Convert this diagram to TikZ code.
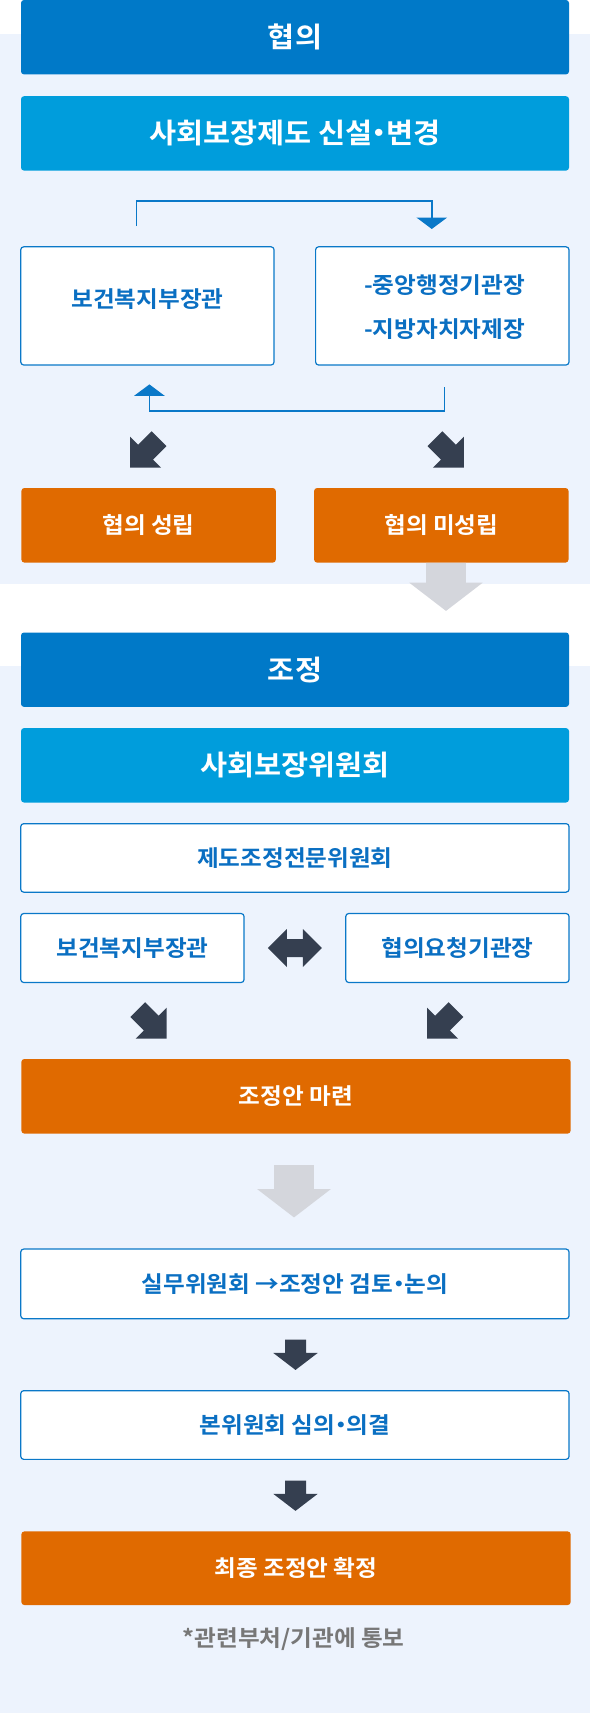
\documentclass[tikz,border=0pt]{standalone}
\usepackage{fontspec}
\setmainfont{Noto Sans CJK KR}[BoldFont={* Bold}, FakeStretch=1.05]
\usetikzlibrary{arrows.meta,calc}
\definecolor{bgblue}{HTML}{EDF3FD}
\definecolor{hdark}{HTML}{0079C8}
\definecolor{hcyan}{HTML}{009DDC}
\definecolor{orng}{HTML}{E06A00}
\definecolor{txtblue}{HTML}{0A6FC2}
\definecolor{bord}{HTML}{0A78C8}
\definecolor{darkarr}{HTML}{353F50}
\definecolor{greyarr}{HTML}{D4D6DC}
\definecolor{notegrey}{HTML}{777777}
\newcommand\mdot{\kern-0.27em・\kern-0.27em}
\tikzset{
  basebox/.style={rounded corners=3pt, inner sep=0pt},
  headA/.style={basebox, fill=hdark, text=white, font=\fontsize{28}{33}\selectfont\bfseries, minimum width=548pt, minimum height=74.4pt},
  headB/.style={headA, fill=hcyan},
  wbox/.style={basebox, fill=white, draw=bord, line width=1.2pt, text=txtblue, font=\fontsize{22.5}{27}\selectfont\bfseries},
  btext/.style={inner sep=0pt, text=txtblue, font=\fontsize{22.5}{44}\selectfont\bfseries},
  obox/.style={basebox, fill=orng, text=white, font=\fontsize{22.5}{27}\selectfont\bfseries},
  bracket/.style={draw=bord, line width=1.6pt, -{Triangle[width=30.5pt,length=11.5pt]}},
  diagSW/.pic={\fill[darkarr] (0,0) -- (0,-31) -- (8.1,-22.9) -- (21.6,-36.4) -- (36.4,-21.6) -- (22.9,-8.1) -- (31,0) -- cycle;},
  downarr/.pic={\fill[darkarr] (-10.5,0) -- (10.5,0) -- (10.5,13.3) -- (22.2,13.3) -- (0,30.3) -- (-22.2,13.3) -- (-10.5,13.3) -- cycle;},
  dblarr/.pic={\fill[darkarr] (-27,0) -- (-8,-19) -- (-8,-9) -- (8,-9) -- (8,-19) -- (27,0) -- (8,19) -- (8,9) -- (-8,9) -- (-8,19) -- cycle;},
  greydown/.pic={\fill[greyarr] (-19.8,0) -- (19.8,0) -- (19.8,#1) -- (36.7,#1) -- (0,#1+28.2) -- (-36.7,#1) -- (-19.8,#1) -- cycle;}
}
\begin{document}
\begin{tikzpicture}[x=1pt,y=-1pt]
\useasboundingbox (0,0) rectangle (590,1713);
\fill[white] (0,0) rectangle (590,1713);
\fill[bgblue] (0,33.5) rectangle (590,583.6);
\fill[bgblue] (0,665.7) rectangle (590,1713);

% ---- section 1 ----
\node[headA] (h1) at (295,37.2) {협의};
\node[headB] (h2) at (295,133.4) {사회보장제도 신설\mdot 변경};
\node[wbox, minimum width=253.3pt, minimum height=118.2pt] (L1) at (147.4,305.9) {};
\node[btext] (L1t) at ([yshift=6.5pt]L1.center) {보건복지부장관};
\node[wbox, minimum width=253.4pt, minimum height=118.2pt] (R1) at (442.3,305.9) {};
\node[btext, align=left] (R1t) at (444.5,307) {-중앙행정기관장\\-지방자치자제장};
\draw[bracket] ([xshift=-10.8pt,yshift=20.2pt]L1.north) -- ++(0,-24.9) -| ([xshift=-10.5pt,yshift=17.2pt]R1.north);
\draw[bracket] ([xshift=2pt,yshift=-21.5pt]R1.south) -- ++(0,24.1) -| ([xshift=2pt,yshift=-18.8pt]L1.south);
\node[obox, minimum width=254.4pt, minimum height=74.6pt] (O1) at (148.6,525.3) {협의 성립};
\node[obox, minimum width=254.4pt, minimum height=74.6pt] (O2) at (441.3,525.3) {협의 미성립};
\pic at (130,467.7) {diagSW};
\pic[xscale=-1] at (463.9,467.7) {diagSW};
\pic at ([xshift=4.7pt]O2.south) {greydown=19.9};

% ---- section 2 ----
\node[headA] (h3) at (295,669.7) {조정};
\node[headB] (h4) at (295,765.3) {사회보장위원회};
\node[wbox, minimum width=548.3pt, minimum height=68.5pt] (c1) at (294.9,857.9) {제도조정전문위원회};
\node[wbox, minimum width=223.3pt, minimum height=69pt] (L2) at (132.4,948) {보건복지부장관};
\node[wbox, minimum width=223.3pt, minimum height=69pt] (R2) at (457.4,948) {협의요청기관장};
\pic at ($(L2.east)!0.5!(R2.west)$) {dblarr};
\pic[xscale=-1] at (166.7,1038.6) {diagSW};
\pic at (427,1038.6) {diagSW};
\node[obox, minimum width=549.3pt, minimum height=74.6pt] (O3) at (296,1096.3) {조정안 마련};
\pic at ([xshift=-2pt,yshift=-31.4pt]O3.south) {greydown=24};
\node[wbox, minimum width=548.3pt, minimum height=69.7pt] (c2) at (294.9,1283.9) {실무위원회 →조정안 검토\mdot 논의};
\pic at ([xshift=0.6pt,yshift=-20.3pt]c2.south) {downarr};
\node[wbox, minimum width=548.3pt, minimum height=68.7pt] (c3) at (294.9,1425) {본위원회 심의\mdot 의결};
\pic at ([xshift=0.6pt,yshift=-20.6pt]c3.south) {downarr};
\node[obox, minimum width=549.3pt, minimum height=73.6pt] (O4) at (296,1568.2) {최종 조정안 확정};
\node[inner sep=0pt, text=notegrey, font=\fontsize{22.5}{27}\selectfont\bfseries] (fn) at (293.7,1639.3) {*관련부처/기관에 통보};
\end{tikzpicture}
\end{document}
